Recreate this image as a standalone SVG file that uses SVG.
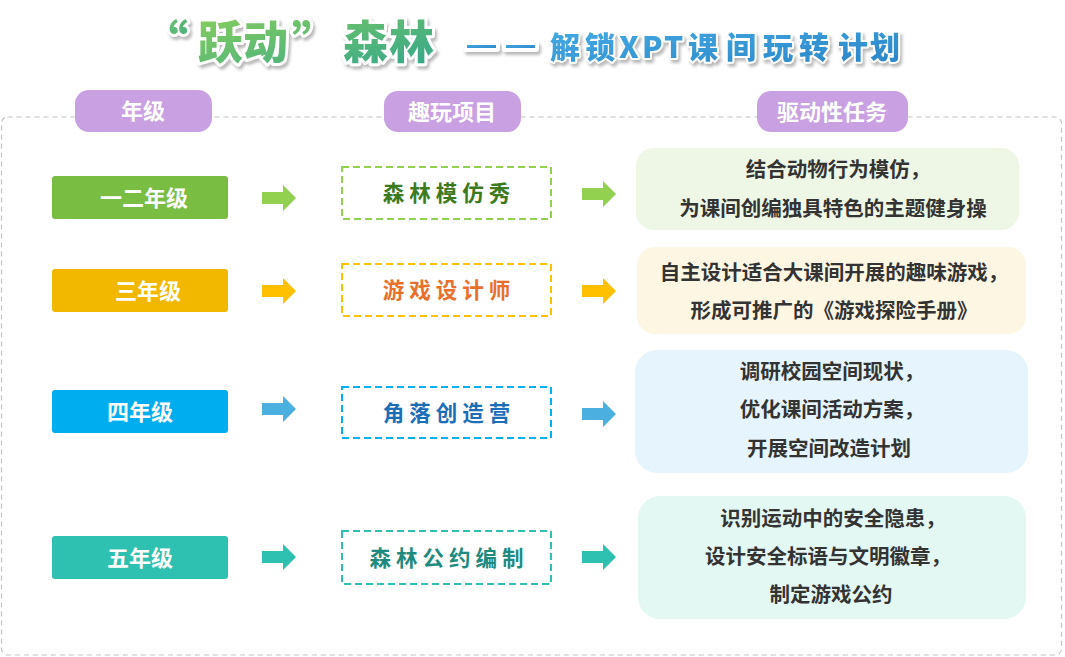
<svg xmlns="http://www.w3.org/2000/svg" width="1065" height="657" viewBox="0 0 1065 657">
<defs>
<linearGradient id="gGreen" x1="0" y1="0" x2="1" y2="1">
<stop offset="0" stop-color="#8DD05A"/>
<stop offset="1" stop-color="#2FA58E"/>
</linearGradient>
<linearGradient id="gBlue" x1="0" y1="0" x2="1" y2="1">
<stop offset="0" stop-color="#45ADE6"/>
<stop offset="1" stop-color="#2A84C6"/>
</linearGradient>
<filter id="shadow" x="-10%" y="-30%" width="120%" height="160%">
<feDropShadow dx="2" dy="3" stdDeviation="1.5" flood-color="#8a8a8a" flood-opacity="0.6"/>
</filter>
<path id="arrow" d="M0,-6 H21 V-13 L34,0 L21,13 V6 H0 Z"/>
</defs>
<style>
text{font-family:"Noto Sans CJK SC","Noto Sans",sans-serif;font-weight:700}
.title{font-weight:900;paint-order:stroke;stroke:#fff;stroke-linejoin:round}
.pill{fill:#C9A0E2}
.pilltxt{fill:#fff;font-size:22px;text-anchor:middle}
.grade{font-size:22px;fill:#fff;text-anchor:middle}
.proj{font-size:21.5px;text-anchor:middle;letter-spacing:5px}
.task{font-size:20.5px;fill:#333;text-anchor:middle}
.pbox{fill:#fff;stroke-width:2;stroke-dasharray:7 4}
</style>
<rect x="1.5" y="117" width="1060" height="538" rx="6" fill="none" stroke="#C4C4C4" stroke-width="1.2" stroke-dasharray="5 4"/>
<g id="title" filter="url(#shadow)">
<text class="title" x="143" y="59" font-size="45" fill="url(#gGreen)" stroke-width="6">“</text>
<text class="title" x="198 243 292 343 389" y="59" font-size="45" fill="url(#gGreen)" stroke-width="6">跃动”森林</text>
<g fill="url(#gBlue)" stroke="#fff" stroke-width="4" stroke-linejoin="round">
<rect x="465" y="43" width="33" height="7" rx="1"/>
<rect x="504" y="43" width="33" height="7" rx="1"/>
</g>
<text class="title" x="550 585 619 642 664 688 726 763 799 838 870" y="58" font-size="30" fill="url(#gBlue)" stroke-width="4">解锁XPT课间玩转计划</text>
</g>
<g id="header-grade"><rect class="pill" x="75" y="90" width="137" height="42" rx="14"/><text class="pilltxt" x="143" y="119">年级</text></g>
<g id="header-project"><rect class="pill" x="384" y="91" width="137" height="41" rx="14"/><text class="pilltxt" x="452" y="120">趣玩项目</text></g>
<g id="header-task"><rect class="pill" x="757" y="91" width="151" height="41" rx="14"/><text class="pilltxt" x="832" y="120">驱动性任务</text></g>

<g id="grade12"><rect x="52" y="176" width="176" height="43" rx="3" fill="#79BE43"/><text class="grade" x="144" y="206">一二年级</text></g>
<g id="grade3"><rect x="52" y="269" width="176" height="43" rx="3" fill="#F2B800"/><text class="grade" x="148" y="299">三年级</text></g>
<g id="grade4"><rect x="52" y="390" width="176" height="43" rx="3" fill="#00AEEF"/><text class="grade" x="140" y="420">四年级</text></g>
<g id="grade5"><rect x="52" y="536" width="176" height="43" rx="3" fill="#2EC0B0"/><text class="grade" x="140" y="566">五年级</text></g>

<g id="proj1"><rect class="pbox" x="342" y="167" width="209" height="52" stroke="#92D050"/><text class="proj" x="449" y="201" fill="#3C7A1E">森林模仿秀</text></g>
<g id="proj2"><rect class="pbox" x="342" y="264" width="209" height="52" stroke="#FFC000"/><text class="proj" x="449" y="298" fill="#E8702A">游戏设计师</text></g>
<g id="proj3"><rect class="pbox" x="342" y="387" width="209" height="51" stroke="#00B0F0"/><text class="proj" x="449" y="421" fill="#1A6FB8">角落创造营</text></g>
<g id="proj4"><rect class="pbox" x="342" y="531" width="209" height="53" stroke="#2EC0B0"/><text class="proj" x="449" y="566" fill="#1E8A80">森林公约编制</text></g>

<g id="task1"><rect x="636" y="148" width="383" height="82" rx="18" fill="#EEF7E6"/>
<text class="task" x="838" y="177">结合动物行为模仿，</text>
<text class="task" x="833" y="216">为课间创编独具特色的主题健身操</text></g>
<g id="task2"><rect x="637" y="247" width="389" height="87" rx="18" fill="#FDF6E3"/>
<text class="task" x="834" y="280">自主设计适合大课间开展的趣味游戏，</text>
<text class="task" x="834" y="318">形成可推广的《游戏探险手册》</text></g>
<g id="task3"><rect x="635" y="350" width="393" height="123" rx="22" fill="#E6F4FD"/>
<text class="task" x="832" y="379">调研校园空间现状，</text>
<text class="task" x="832" y="417">优化课间活动方案，</text>
<text class="task" x="829" y="456">开展空间改造计划</text></g>
<g id="task4"><rect x="638" y="496" width="388" height="123" rx="22" fill="#E3F7F3"/>
<text class="task" x="833" y="526">识别运动中的安全隐患，</text>
<text class="task" x="828" y="564">设计安全标语与文明徽章，</text>
<text class="task" x="831" y="602">制定游戏公约</text></g>

<g id="connectors">
<use href="#arrow" x="262" y="198" fill="#92D050"/>
<use href="#arrow" x="582" y="194" fill="#92D050"/>
<use href="#arrow" x="262" y="291" fill="#FFC000"/>
<use href="#arrow" x="582" y="291" fill="#FFC000"/>
<use href="#arrow" x="262" y="409" fill="#4BAFE0"/>
<use href="#arrow" x="582" y="414" fill="#4BAFE0"/>
<use href="#arrow" x="262" y="557" fill="#2EC0B0"/>
<use href="#arrow" x="582" y="557" fill="#2EC0B0"/>
</g>
</svg>
